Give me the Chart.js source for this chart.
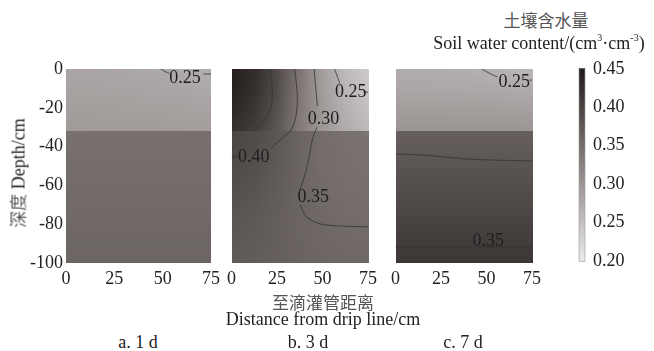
<!DOCTYPE html>
<html>
<head>
<meta charset="utf-8">
<script src="https://cdn.jsdelivr.net/npm/chart.js@4.4.1/dist/chart.umd.min.js"></script>
<style>
  html, body { margin: 0; padding: 0; background: #fff; }
  #wrap { position: relative; width: 654px; height: 351px; overflow: hidden; font-family: "Liberation Serif", "Times New Roman", serif; color: #222; }
  #wrap canvas { position: absolute; }
  .txt { position: absolute; white-space: nowrap; transform: translate(-50%, -50%); font-size: 18px; line-height: 1; }
  .cjk { font-family: "Noto Sans CJK SC", sans-serif; color: #555; font-size: 17px; }
  sup { font-size: 10px; vertical-align: 8px; }
</style>
</head>
<body>
<div id="wrap">
  <canvas id="panelA" width="225" height="235" style="left:0;top:55px"></canvas>
  <canvas id="panelB" width="160" height="235" style="left:222px;top:55px"></canvas>
  <canvas id="panelC" width="160" height="235" style="left:386px;top:55px"></canvas>
  <canvas id="colorbar" width="84" height="230" style="left:570px;top:50px"></canvas>

  <div class="txt cjk" style="left:546px;top:19px">土壤含水量</div>
  <div class="txt" style="left:539px;top:42px">Soil water content/(cm<sup>3</sup>·cm<sup>-3</sup>)</div>
  <div class="txt" style="left:18px;top:173px;transform:translate(-50%,-50%) rotate(-90deg)"><span class="cjk">深度</span> Depth/cm</div>
  <div class="txt cjk" style="left:323px;top:301px">至滴灌管距离</div>
  <div class="txt" style="left:323px;top:319px">Distance from drip line/cm</div>
  <div class="txt" style="left:138px;top:342px">a. 1 d</div>
  <div class="txt" style="left:308px;top:342px">b. 3 d</div>
  <div class="txt" style="left:463px;top:342px">c. 7 d</div>
</div>

<script>
// Grid positions (cm)
const distances = [0, 12.5, 25, 37.5, 50, 62.5, 75];
const upperDepths = [0, -10, -20, -32];
const lowerDepths = [-32, -50, -70, -100];

// Soil water content (cm3/cm3), rows follow the depth arrays, columns follow distances
const day1Upper = [
  [0.281, 0.281, 0.280, 0.279, 0.277, 0.274, 0.271],
  [0.285, 0.285, 0.284, 0.283, 0.282, 0.280, 0.278],
  [0.290, 0.290, 0.289, 0.288, 0.287, 0.286, 0.285],
  [0.295, 0.295, 0.294, 0.294, 0.293, 0.292, 0.292]
];
const day1Lower = [
  [0.345, 0.345, 0.345, 0.345, 0.345, 0.345, 0.345],
  [0.349, 0.349, 0.349, 0.349, 0.349, 0.349, 0.349],
  [0.353, 0.353, 0.353, 0.353, 0.353, 0.353, 0.353],
  [0.359, 0.359, 0.359, 0.359, 0.359, 0.359, 0.359]
];
const day3Upper = [
  [0.445, 0.428, 0.392, 0.338, 0.290, 0.258, 0.238],
  [0.442, 0.425, 0.390, 0.337, 0.292, 0.262, 0.243],
  [0.435, 0.418, 0.385, 0.335, 0.295, 0.268, 0.250],
  [0.425, 0.408, 0.378, 0.332, 0.298, 0.274, 0.258]
];
const day3Lower = [
  [0.400, 0.392, 0.378, 0.360, 0.350, 0.345, 0.342],
  [0.392, 0.386, 0.374, 0.360, 0.350, 0.346, 0.344],
  [0.383, 0.378, 0.369, 0.360, 0.354, 0.350, 0.348],
  [0.372, 0.370, 0.366, 0.362, 0.359, 0.357, 0.356]
];
const day7Upper = [
  [0.273, 0.273, 0.272, 0.271, 0.268, 0.264, 0.260],
  [0.280, 0.280, 0.280, 0.279, 0.278, 0.276, 0.274],
  [0.290, 0.290, 0.290, 0.289, 0.289, 0.288, 0.287],
  [0.302, 0.302, 0.302, 0.302, 0.301, 0.301, 0.300]
];
const day7Lower = [
  [0.366, 0.366, 0.366, 0.366, 0.366, 0.366, 0.366],
  [0.380, 0.380, 0.380, 0.380, 0.380, 0.380, 0.380],
  [0.394, 0.394, 0.394, 0.394, 0.394, 0.394, 0.394],
  [0.417, 0.417, 0.417, 0.417, 0.417, 0.417, 0.417]
];

// Contour lines [distance, depth]
const day1Lines = [
  [[49, 0], [51.5, -1.4], [53.5, -2.3]],
  [[71, -2.6], [75, -2.6]]
];
const day1Labels = [["0.25", 61.5, -4.6]];

const day3Lines = [
  [[20.9, 0], [22.4, -10.3], [21.9, -18.6], [19.4, -24.7], [15.3, -29.4], [11.7, -32]],
  [[0, -45.4], [4, -45.4]],
  [[21.9, -40.7], [28.6, -35], [32.7, -31.4], [35.2, -25.3], [36.2, -16], [35.7, -8.2], [34.7, 0]],
  [[45.4, 0], [46.4, -10.8], [47.2, -19]],
  [[46.9, -30], [44.4, -36.6], [42.3, -46.9], [39.8, -56.2], [37.4, -62.5]],
  [[37.8, -70.1], [41.3, -76.3], [49, -79.9], [59.2, -80.9], [75, -81.4]],
  [[56.6, 0], [58.2, -4], [59.5, -7.5]],
  [[72.4, -11.9], [75, -11.9]]
];
const day3Labels = [["0.40", 12.2, -45.4], ["0.30", 50.5, -25.8], ["0.35", 44.9, -66], ["0.25", 65.5, -11.9]];

const day7Lines = [
  [[47.3, 0], [52.4, -2.6], [56, -4.1]],
  [[73.5, -5.7], [75, -5.7]],
  [[0, -43.8], [13.9, -44.3], [27.7, -45.4], [39.6, -46.4], [51.4, -46.9], [75, -47.4]],
  [[0, -91.8], [75, -91.8]]
];
const day7Labels = [["0.25", 65.2, -6.7], ["0.35", 50.9, -88.7]];

const cbMin = 0.20, cbMax = 0.45;
const cbTicks = [0.20, 0.25, 0.30, 0.35, 0.40, 0.45];

const serif = "'Liberation Serif', 'Times New Roman', serif";
const tickFont = { family: serif, size: 18 };
const textColor = "#222";

// warm grey colour scale, light at 0.20 and dark at 0.45
const greyStops = [[236, 234, 234], [136, 129, 128], [32, 27, 26]];
function colorOf(v) {
  let t = (v - cbMin) / (cbMax - cbMin);
  t = Math.max(0, Math.min(1, t)) * 2;
  const i = Math.min(1, Math.floor(t));
  const f = t - i;
  const a = greyStops[i], b = greyStops[i + 1];
  return [a[0] + (b[0] - a[0]) * f, a[1] + (b[1] - a[1]) * f, a[2] + (b[2] - a[2]) * f];
}

function lerpGrid(grid, depths, x, y) {
  let c = 0;
  while (c < distances.length - 2 && x > distances[c + 1]) c++;
  let r = 0;
  while (r < depths.length - 2 && y < depths[r + 1]) r++;
  const tx = Math.max(0, Math.min(1, (x - distances[c]) / (distances[c + 1] - distances[c])));
  const ty = Math.max(0, Math.min(1, (y - depths[r]) / (depths[r + 1] - depths[r])));
  const top = grid[r][c] * (1 - tx) + grid[r][c + 1] * tx;
  const bot = grid[r + 1][c] * (1 - tx) + grid[r + 1][c + 1] * tx;
  return top * (1 - ty) + bot * ty;
}

function heatmapPlugin(upper, lower) {
  return {
    id: "heatmap",
    beforeDatasetsDraw(chart) {
      const { ctx, chartArea: a, scales } = chart;
      const w = Math.round(a.right - a.left), h = Math.round(a.bottom - a.top);
      const off = document.createElement("canvas");
      off.width = w; off.height = h;
      const octx = off.getContext("2d");
      const img = octx.createImageData(w, h);
      for (let j = 0; j < h; j++) {
        const y = scales.y.getValueForPixel(a.top + j + 0.5);
        for (let i = 0; i < w; i++) {
          const x = scales.x.getValueForPixel(a.left + i + 0.5);
          const v = y >= -32 ? lerpGrid(upper, upperDepths, x, y) : lerpGrid(lower, lowerDepths, x, y);
          const col = colorOf(v);
          const k = (j * w + i) * 4;
          img.data[k] = col[0]; img.data[k + 1] = col[1]; img.data[k + 2] = col[2]; img.data[k + 3] = 255;
        }
      }
      octx.putImageData(img, 0, 0);
      ctx.drawImage(off, a.left, a.top);
    }
  };
}

function labelPlugin(labels) {
  return {
    id: "contourLabels",
    afterDatasetsDraw(chart) {
      const { ctx, scales } = chart;
      ctx.save();
      ctx.font = "18px " + serif;
      ctx.fillStyle = "#1e1e1e";
      ctx.textAlign = "center";
      ctx.textBaseline = "middle";
      labels.forEach(([t, x, y]) => {
        ctx.fillText(t, scales.x.getPixelForValue(x), scales.y.getPixelForValue(y));
      });
      ctx.restore();
    }
  };
}

function makePanel(id, upper, lower, lines, labels, showY, pad) {
  return new Chart(document.getElementById(id), {
    type: "scatter",
    data: {
      datasets: lines.map((pts) => ({
        data: pts.map((p) => ({ x: p[0], y: p[1] })),
        showLine: true,
        borderColor: "#333",
        borderWidth: 0.8,
        pointRadius: 0,
        tension: 0.3
      }))
    },
    options: {
      responsive: false,
      animation: false,
      events: [],
      layout: { padding: pad },
      plugins: { legend: { display: false }, tooltip: { enabled: false } },
      scales: {
        x: {
          type: "linear", min: 0, max: 75,
          grid: { display: false, drawTicks: false },
          border: { display: false },
          ticks: { stepSize: 25, font: tickFont, color: textColor, padding: 5, maxRotation: 0, autoSkip: false },
          afterFit(s) { s.height = 27; }
        },
        y: {
          type: "linear", min: -100, max: 0, display: showY,
          grid: { display: false, drawTicks: false },
          border: { display: false },
          ticks: { stepSize: 20, font: tickFont, color: textColor, padding: 3, autoSkip: false },
          afterFit(s) { s.width = showY ? 66 : 0; }
        }
      }
    },
    plugins: [heatmapPlugin(upper, lower), labelPlugin(labels)]
  });
}

makePanel("panelA", day1Upper, day1Lower, day1Lines, day1Labels, true, { top: 14, right: 12 });
makePanel("panelB", day3Upper, day3Lower, day3Lines, day3Labels, false, { top: 14, left: 7, right: 6 });
makePanel("panelC", day7Upper, day7Lower, day7Lines, day7Labels, false, { top: 14, left: 7, right: 7 });

// Colour bar
new Chart(document.getElementById("colorbar"), {
  type: "scatter",
  data: { datasets: [] },
  options: {
    responsive: false,
    animation: false,
    events: [],
    layout: { padding: { left: 9, top: 12, bottom: 15 } },
    plugins: { legend: { display: false }, tooltip: { enabled: false } },
    scales: {
      x: { display: false, min: 0, max: 1 },
      y: {
        position: "right", min: cbMin, max: cbMax,
        afterBuildTicks(s) { s.ticks = cbTicks.map((v) => ({ value: v })); },
        grid: { display: false, drawTicks: false },
        border: { display: false },
        ticks: { font: tickFont, color: textColor, padding: 8, callback: (v) => v.toFixed(2) },
        afterFit(s) { s.width = 69; }
      }
    }
  },
  plugins: [{
    id: "bar",
    beforeDatasetsDraw(chart) {
      const { ctx, chartArea: a, scales } = chart;
      for (let py = Math.floor(a.top); py < a.bottom; py++) {
        const col = colorOf(scales.y.getValueForPixel(py + 0.5));
        ctx.fillStyle = `rgb(${col[0]},${col[1]},${col[2]})`;
        ctx.fillRect(a.left, py, a.right - a.left, 1);
      }
      ctx.strokeStyle = "#999";
      ctx.lineWidth = 0.6;
      ctx.strokeRect(a.left, a.top, a.right - a.left, a.bottom - a.top);
    }
  }]
});
</script>
</body>
</html>
